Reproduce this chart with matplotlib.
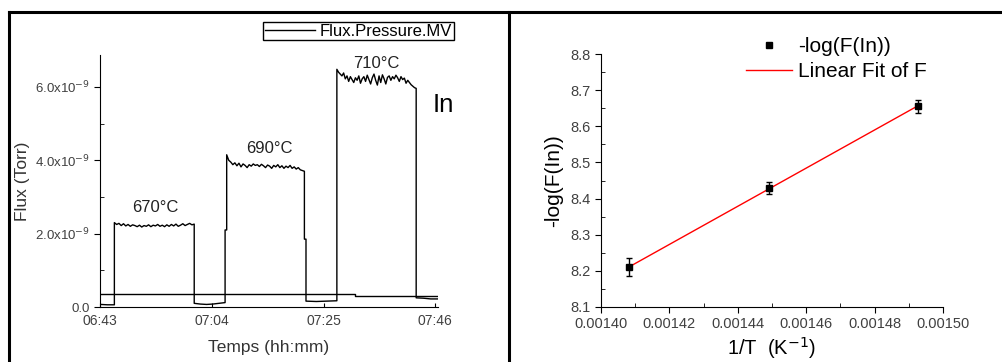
import numpy as np
import matplotlib
matplotlib.use("Agg")
import matplotlib.pyplot as plt
from matplotlib.lines import Line2D
from matplotlib.ticker import MultipleLocator

plt.rcParams['font.family'] = ['Liberation Sans', 'DejaVu Sans']

# ---------------- Left panel data (flux vs time, minutes after 06:43, units 1e-9 Torr)
seg_bounds = [(0.1, 2.7), (2.7, 17.7), (17.7, 23.5), (23.5, 23.8), (23.8, 38.4),
              (38.4, 38.7), (38.7, 44.5), (44.5, 59.4), (59.4, 63.5)]
low0 = [0.07, 0.06, 0.06]
plat1 = [2.30, 2.25, 2.28, 2.22, 2.27, 2.21, 2.25, 2.20, 2.24, 2.22, 2.19, 2.23,
         2.18, 2.22, 2.20, 2.24, 2.19, 2.23, 2.21, 2.25, 2.20, 2.23, 2.19, 2.24,
         2.20, 2.25, 2.21, 2.26, 2.20, 2.23, 2.27, 2.22, 2.25, 2.28, 2.24, 2.26]
low1 = [0.10, 0.08, 0.07, 0.08, 0.10, 0.12]
step1 = [2.10, 2.10]
plat2 = [4.15, 4.00, 3.95, 3.88, 3.93, 3.85, 3.92, 3.82, 3.90, 3.86, 3.80, 3.88,
         3.84, 3.90, 3.86, 3.88, 3.83, 3.89, 3.85, 3.80, 3.87, 3.84, 3.78, 3.86,
         3.82, 3.88, 3.80, 3.85, 3.78, 3.84, 3.80, 3.86, 3.78, 3.82, 3.76, 3.80,
         3.74, 3.72, 3.70]
step2 = [1.85, 1.85]
low2 = [0.16, 0.15, 0.16, 0.17]
plat3 = [6.48, 6.40, 6.35, 6.30, 6.38, 6.22, 6.30, 6.15, 6.28, 6.20, 6.12, 6.25,
         6.18, 6.30, 6.10, 6.22, 6.28, 6.15, 6.32, 6.20, 6.08, 6.25, 6.35, 6.18,
         6.05, 6.30, 6.12, 6.33, 6.22, 6.08, 6.26, 6.30, 6.18, 6.28, 6.22, 6.32,
         6.25, 6.15, 6.28, 6.20, 6.24, 6.10, 6.18, 6.12, 6.06, 6.02, 5.98, 5.96]
low3 = [0.25, 0.24, 0.22, 0.22]
segments = [low0, plat1, low1, step1, plat2, step2, low2, plat3, low3]

ref_t = [0.1, 48.0, 48.0, 63.5]
ref_v = [0.35, 0.35, 0.31, 0.31]

time_ticks = [0, 21, 42, 63]
time_labels = ["06:43", "07:04", "07:25", "07:46"]
flux_ticks = [0, 2, 4, 6]
flux_labels = ["0.0", r"2.0x10$^{-9}$", r"4.0x10$^{-9}$", r"6.0x10$^{-9}$"]
temp_labels = ["670°C", "690°C", "710°C"]
temp_pos = [(10.3, 2.72), (31.8, 4.32), (52.0, 6.65)]

# ---------------- Right panel data
inv_T = [0.0014083, 0.0014492, 0.0014926]
neg_log_F = [8.210, 8.430, 8.655]
err = [0.025, 0.016, 0.017]

fig = plt.figure(figsize=(10.03, 3.62), dpi=100)

# frame lines
fig.add_artist(Line2D([9/1003, 1002/1003], [1-12/362, 1-12/362], transform=fig.transFigure, color='black', lw=2.2))
fig.add_artist(Line2D([9/1003, 9/1003], [0, 1-12/362], transform=fig.transFigure, color='black', lw=2.2))
fig.add_artist(Line2D([509/1003, 509/1003], [0, 1-12/362], transform=fig.transFigure, color='black', lw=2.2))

tick_col = '#404040'

# ---------------- Left axes
ax1 = fig.add_axes([100/1003, 1-307/362, 338/1003, 252/362])
ts, vs = [], []
for (t0, t1), vals in zip(seg_bounds, segments):
    ts.extend(np.linspace(t0, t1, len(vals)))
    vs.extend(vals)
ts = np.array(ts)
vs = np.array(vs) * 1e-9
ax1.plot(ts, vs, color='black', lw=1.0, label='Flux.Pressure.MV')
ax1.plot(ref_t, np.array(ref_v) * 1e-9, color='black', lw=1.0)
ax1.set_xlim(0, 63.5)
ax1.set_ylim(0, 6.87e-9)
ax1.set_xticks(time_ticks)
ax1.set_xticklabels(time_labels)
ax1.set_yticks(np.array(flux_ticks) * 1e-9)
ax1.set_yticklabels(flux_labels)
ax1.yaxis.set_minor_locator(MultipleLocator(1e-9))
for s in ['top', 'right']:
    ax1.spines[s].set_visible(False)
ax1.tick_params(axis='y', which='major', direction='out', length=4, labelsize=9.5, labelcolor=tick_col)
ax1.tick_params(axis='y', which='minor', direction='in', length=3)
ax1.tick_params(axis='x', which='major', direction='in', length=3, labelsize=10, labelcolor=tick_col, pad=5)
ax1.set_xlabel("Temps (hh:mm)", fontsize=12.5, color='#333333', labelpad=9)
ax1.set_ylabel("Flux (Torr)", fontsize=12.5, color='#333333', labelpad=3)
for lab, (tx, ty) in zip(temp_labels, temp_pos):
    ax1.text(tx, ty * 1e-9, lab, fontsize=12, ha='center', va='center', color='#222222')
ax1.text(0.985, 0.80, "In", transform=ax1.transAxes, fontsize=18.5, ha='left', va='center')
leg1 = ax1.legend(loc='upper right', bbox_to_anchor=(454/1003, 1-22/362), bbox_transform=fig.transFigure,
                  fancybox=False, edgecolor='black', fontsize=12, handlelength=3.0, borderpad=0.1,
                  handletextpad=0.3, framealpha=1, borderaxespad=0)
leg1.get_frame().set_linewidth(1.0)

# ---------------- Right axes
ax2 = fig.add_axes([601/1003, 1-307/362, 342/1003, 253/362])
coef = np.polyfit(inv_T, neg_log_F, 1)
fit_x = np.array([inv_T[0], inv_T[-1]])
ax2.errorbar(inv_T, neg_log_F, yerr=err, fmt='s', color='black', ms=4, capsize=2.5, elinewidth=1,
             zorder=3)
ax2.plot(fit_x, np.polyval(coef, fit_x), color='red', lw=1.0, zorder=2)
ax2.set_xlim(0.0014, 0.0015)
ax2.set_ylim(8.1, 8.8)
ax2.set_xticks([0.00140, 0.00142, 0.00144, 0.00146, 0.00148, 0.00150])
ax2.set_xticklabels(["0.00140", "0.00142", "0.00144", "0.00146", "0.00148", "0.00150"])
ax2.set_yticks([8.1, 8.2, 8.3, 8.4, 8.5, 8.6, 8.7, 8.8])
ax2.set_yticklabels(["8.1", "8.2", "8.3", "8.4", "8.5", "8.6", "8.7", "8.8"])
ax2.xaxis.set_minor_locator(MultipleLocator(0.00001))
ax2.yaxis.set_minor_locator(MultipleLocator(0.05))
for s in ['top', 'right']:
    ax2.spines[s].set_visible(False)
ax2.tick_params(which='major', direction='out', length=4, labelsize=10.5, labelcolor=tick_col)
ax2.tick_params(which='minor', direction='in', length=3)
ax2.set_xlabel(r"1/T  (K$^{-1}$)", fontsize=14.5, labelpad=3)
ax2.set_ylabel("-log(F(In))", fontsize=15, labelpad=5)
h_pts = Line2D([], [], color='black', marker='s', ms=4, ls='none')
h_fit = Line2D([], [], color='red', lw=1.0)
ax2.legend([h_pts, h_fit], ['-log(F(In))', 'Linear Fit of F'],
           loc='upper left', bbox_to_anchor=(746/1003, 1-37/362), bbox_transform=fig.transFigure,
           frameon=False, fontsize=15, handlelength=2.2, handletextpad=0.3, labelspacing=0.3,
           borderpad=0, borderaxespad=0)

fig.savefig("out.png", dpi=100)
